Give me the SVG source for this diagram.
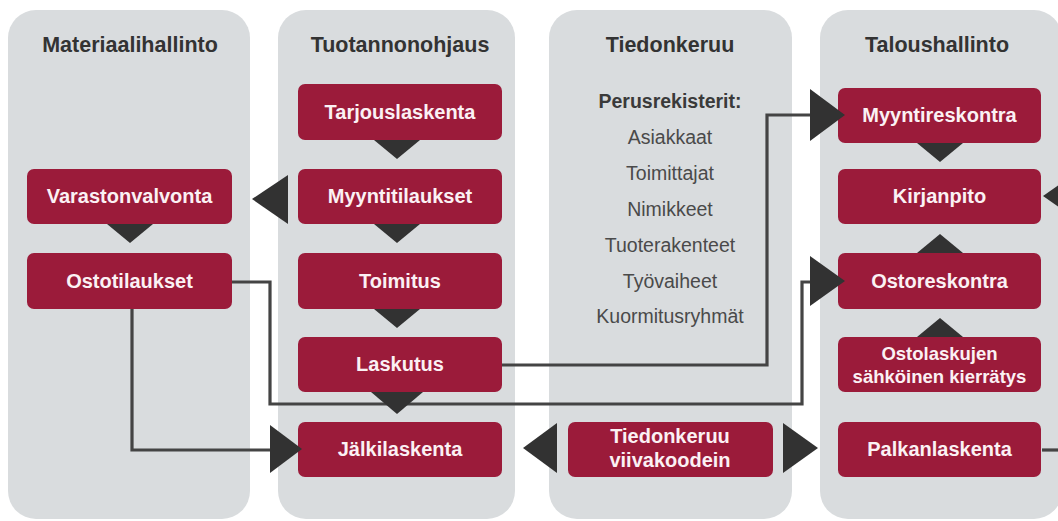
<svg xmlns="http://www.w3.org/2000/svg" width="1058" height="521" viewBox="0 0 1058 521">
<style>
.panel{fill:#d9dcde}
.hdr{font-family:"Liberation Sans",Arial,sans-serif;font-weight:bold;font-size:21.5px;fill:#333;text-anchor:middle}
.box{fill:#9b1b3a}
.lbl{font-family:"Liberation Sans",Arial,sans-serif;font-weight:bold;font-size:20px;fill:#fbf1f4;text-anchor:middle}
.lbl2{font-family:"Liberation Sans",Arial,sans-serif;font-weight:bold;font-size:18.5px;fill:#fbf1f4;text-anchor:middle}
.reg{font-family:"Liberation Sans",Arial,sans-serif;font-size:19.5px;fill:#4a4a4a;text-anchor:middle}
.regb{font-family:"Liberation Sans",Arial,sans-serif;font-weight:bold;font-size:19.5px;fill:#3a3a3a;text-anchor:middle}
.ln{fill:none;stroke:#444;stroke-width:3.2}
.tri{fill:#323232}
</style>
<g id="panels">
<rect id="col-materiaalihallinto" class="panel" x="8" y="10" width="242" height="509" rx="28"/>
<rect id="col-tuotannonohjaus" class="panel" x="278" y="10" width="237" height="509" rx="28"/>
<rect id="col-tiedonkeruu" class="panel" x="549" y="10" width="243" height="509" rx="28"/>
<rect id="col-taloushallinto" class="panel" x="820" y="10" width="242" height="509" rx="28"/>
<text class="hdr" x="130" y="52">Materiaalihallinto</text>
<text class="hdr" x="400" y="52">Tuotannonohjaus</text>
<text class="hdr" x="670" y="52">Tiedonkeruu</text>
<text class="hdr" x="937" y="52">Taloushallinto</text>
</g>
<g id="connectors">
<path class="ln" d="M502,365 H767 V115 H812"/>
<path class="ln" d="M232,282 H270 V404 H802 V282 H812"/>
<path class="ln" d="M132,309 V450 H274"/>
<path class="ln" d="M1042,450 H1060"/>
</g>
<g id="perusrekisterit">
<text class="regb" x="670" y="108">Perusrekisterit:</text>
<text class="reg" x="670" y="144">Asiakkaat</text>
<text class="reg" x="670" y="180">Toimittajat</text>
<text class="reg" x="670" y="216">Nimikkeet</text>
<text class="reg" x="670" y="252">Tuoterakenteet</text>
<text class="reg" x="670" y="288">Työvaiheet</text>
<text class="reg" x="670" y="323">Kuormitusryhmät</text>
</g>
<g id="varastonvalvonta"><rect class="box" x="27" y="169" width="205" height="55" rx="7"/><text class="lbl" x="129.5" y="203">Varastonvalvonta</text></g>
<g id="ostotilaukset"><rect class="box" x="27" y="253" width="205" height="56" rx="7"/><text class="lbl" x="129.5" y="288">Ostotilaukset</text></g>
<g id="tarjouslaskenta"><rect class="box" x="298" y="84" width="204" height="56" rx="7"/><text class="lbl" x="400" y="119">Tarjouslaskenta</text></g>
<g id="myyntitilaukset"><rect class="box" x="298" y="169" width="204" height="55" rx="7"/><text class="lbl" x="400" y="203">Myyntitilaukset</text></g>
<g id="toimitus"><rect class="box" x="298" y="253" width="204" height="56" rx="7"/><text class="lbl" x="400" y="288">Toimitus</text></g>
<g id="laskutus"><rect class="box" x="298" y="337" width="204" height="55" rx="7"/><text class="lbl" x="400" y="371">Laskutus</text></g>
<g id="jalkilaskenta"><rect class="box" x="298" y="422" width="204" height="55" rx="7"/><text class="lbl" x="400" y="456">Jälkilaskenta</text></g>
<g id="tiedonkeruu-viivakoodein"><rect class="box" x="568" y="422" width="205" height="55" rx="7"/><text class="lbl" x="670" y="443">Tiedonkeruu</text><text class="lbl" x="670" y="467">viivakoodein</text></g>
<g id="myyntireskontra"><rect class="box" x="838" y="88" width="203" height="55" rx="7"/><text class="lbl" x="939.5" y="122">Myyntireskontra</text></g>
<g id="kirjanpito"><rect class="box" x="838" y="169" width="203" height="55" rx="7"/><text class="lbl" x="939.5" y="203">Kirjanpito</text></g>
<g id="ostoreskontra"><rect class="box" x="838" y="253" width="203" height="56" rx="7"/><text class="lbl" x="939.5" y="288">Ostoreskontra</text></g>
<g id="ostolaskujen-kierratys"><rect class="box" x="838" y="337" width="203" height="55" rx="7"/><text class="lbl2" x="939.5" y="360">Ostolaskujen</text><text class="lbl2" x="939.5" y="383">sähköinen kierrätys</text></g>
<g id="palkanlaskenta"><rect class="box" x="838" y="422" width="203" height="55" rx="7"/><text class="lbl" x="939.5" y="456">Palkanlaskenta</text></g>
<g id="arrowheads">
<polygon class="tri" points="374,140 420,140 397,159"/>
<polygon class="tri" points="374,224 420,224 397,243"/>
<polygon class="tri" points="374,309 420,309 397,328"/>
<polygon class="tri" points="371,392 423,392 397,414"/>
<polygon class="tri" points="107,224 153,224 130,243"/>
<polygon class="tri" points="917,143 963,143 940,162"/>
<polygon class="tri" points="917,253 963,253 940,234"/>
<polygon class="tri" points="917,337 963,337 940,318"/>
<polygon class="tri" points="252,199 288,175 288,224"/>
<polygon class="tri" points="523,448 557,423 557,473"/>
<polygon class="tri" points="1043,196 1079,171 1079,221"/>
<polygon class="tri" points="810,89 845,115 810,141"/>
<polygon class="tri" points="810,256 845,281 810,306"/>
<polygon class="tri" points="270,425 302,449 270,473"/>
<polygon class="tri" points="783,423 818,448 783,473"/>
</g>
</svg>
